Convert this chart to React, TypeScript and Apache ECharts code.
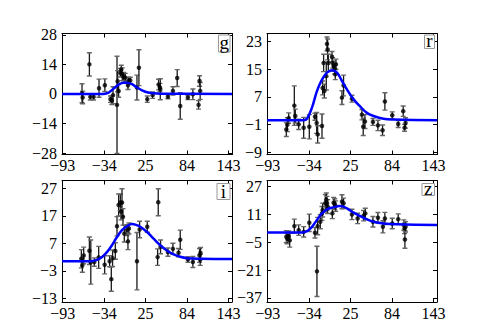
import React, { useEffect, useRef } from "react";
import * as echarts from "echarts";

const BANDS = ["g", "r", "i", "z"];
const X_TICKS = [-93, -34, 25, 84, 143];
const X_RANGE = [-94, 148];
const Y_TICKS = {
  g: [-28, -14, 0, 14, 28],
  r: [-9, -1, 7, 15, 23],
  i: [-13, -3, 7, 17, 27],
  z: [-37, -21, -5, 11, 27],
};
const Y_RANGE = {
  g: [-28.7, 28.6],
  r: [-9.6, 25.3],
  i: [-14.3, 29.8],
  z: [-39.3, 30.5],
};

// [time, flux, error]
const G_POINTS = [
  [-65.5, 0.3, 4.5], [-64.6, -1.7, 3], [-55, 14, 5.5], [-53.7, -1.4, 1.5], [-49, -1.4, 1.5],
  [-41.3, 2.7, 4.3], [-33, 4.1, 3], [-25, -2.5, 1.5], [-23, -3, 2], [-21.4, -0.6, 4],
  [-15.7, -5.2, 23], [-14.8, 6, 5], [-13.4, 1.4, 3], [-11, 10, 2], [-9.6, 11.6, 2],
  [-8.2, 9.3, 3], [-6.3, 8.2, 2], [-4, 7.7, 2], [-0.1, 4.1, 2], [0.8, 6.4, 1.5],
  [3.2, 6.4, 1.5], [12.7, 3, 5.9], [15.5, 12.4, 8.5], [27.4, -2.5, 1.5], [35, -0.6, 1.5],
  [43.5, 4.4, 2.5], [45.4, 3, 2], [45.9, 2.2, 5], [56.8, -1.3, 1], [63.9, 1.4, 2],
  [70, 7.5, 4], [74.3, -5.7, 6.3], [85.2, -1.7, 1], [92.3, -0.2, 2.5], [100.4, -5.2, 2],
  [101.8, 6.1, 2.5], [102.7, 1.4, 4],
];
const R_POINTS = [
  [-66.5, -2.4, 2], [-65, -1, 2], [-63.1, 0.9, 1.5], [-55.1, 4.5, 5.7], [-53.7, 1.5, 2],
  [-48.9, -0.9, 1.5], [-41.8, -1.9, 3], [-33.8, -1.6, 3.5], [-25.7, 1.3, 1], [-23.3, -0.5, 3],
  [-21.9, -3.8, 2.5], [-15.7, -1.4, 3.5], [-14.8, 9.6, 2], [-12.4, 8.7, 2], [-13.4, 16.8, 2.5],
  [-9.6, 13, 4], [-8.6, 22.3, 2], [-7.7, 20.7, 3], [-6.7, 16.8, 2.5], [-1.5, 18.6, 1.5],
  [-0.6, 16.8, 1.5], [0.8, 15.9, 1.5], [2.3, 15.1, 1.5], [3.2, 13.5, 1.5], [4.2, 16.4, 1.5],
  [12.7, 6.8, 2], [15, 10.3, 3], [26.9, 6.5, 1], [41.1, 1.9, 1.5], [43, -1.6, 2.5],
  [45.4, -0.1, 2], [56.8, -0.2, 1], [63.9, -1.2, 1.5], [70.5, -2.6, 1.5], [73.8, 5.7, 2.5],
  [84.3, 1.7, 1], [92.8, -0.8, 1], [99.9, 2.9, 1.5], [101.8, -1.9, 1], [103.2, -0.5, 1.5],
];
const I_POINTS = [
  [-66.5, 1.4, 3.3], [-65, -1, 2.5], [-63.1, 2.6, 3], [-55, 4.3, 5], [-53, 0.2, 8],
  [-48, 0.2, 1.5], [-41.8, 1.9, 4], [-33.3, -0.8, 3.3], [-26.2, 0.5, 2], [-23.8, -6, 4.4],
  [-22, 1.6, 3], [-18.1, 4.2, 3], [-15.7, 13.2, 3.5], [-13.4, 20.9, 4], [-11, 21.8, 3],
  [-10.1, 18.5, 3], [-8.6, 21.8, 5], [-7.2, 16.6, 3], [-5.3, 10.5, 3], [-1.5, 11.8, 2],
  [-0.1, 7.7, 3], [1.3, 12.4, 2], [12.7, 0.5, 10.4], [16.5, 12, 3], [27.4, 13, 2],
  [42.1, 2, 3], [43, 21.9, 4.9], [46.3, 5.7, 2.5], [56.8, 3.8, 1.5], [63.9, 5, 2],
  [71.9, 3.6, 1.5], [74.3, 8.3, 3.5], [85.2, 1.1, 1], [92.3, 0.2, 2], [101.8, 2.6, 2.5],
  [102.7, 1, 2], [103.2, 3.5, 2],
];
const Z_POINTS = [
  [-66.5, -1.8, 3.5], [-65, -2.8, 3], [-63.1, -1.5, 3], [-61.7, -3.8, 4], [-55.1, 4.3, 4],
  [-48.9, 2, 3], [-41.8, 1, 3], [-33.8, 6.2, 5], [-25.7, 0.5, 3], [-22.9, -21.7, 14.4],
  [-21.9, 4.3, 5], [-18.1, 6.8, 4], [-15.8, 11.6, 4], [-14.8, 13.5, 4], [-11, 17.4, 5],
  [-9.6, 19.3, 4], [-8.6, 17.4, 4], [-7.7, 15.5, 4], [-1, 11.6, 3], [0.8, 17.8, 3],
  [2.3, 17, 3], [3.7, 15.8, 3], [12.7, 18.3, 4], [15, 17.4, 3], [26.9, 11, 3],
  [35, 8.7, 3], [43.5, 10.3, 3], [45.9, 11.6, 3], [56.8, 6.8, 3], [63.9, 9.1, 3],
  [71, 3.9, 3.5], [73.8, 8.7, 3.5], [84.3, 5.8, 3], [92.8, 8.3, 3], [100.8, 4.9, 3],
  [101.8, 3, 3], [102.3, -3.4, 5], [103.2, 3.9, 3],
];

// model curves: [time, flux]
const G_CURVE = [
  [-94, 0], [-34.7, 0], [-27.6, 0.6], [-20.5, 2.5], [-13.4, 4.4], [-6.3, 5.3], [-1.5, 5.3],
  [5.6, 4.6], [12.7, 3.0], [19.8, 1.7], [26.9, 0.8], [36.4, 0.3], [45.9, 0.1], [148, 0],
];
const R_CURVE = [
  [-94, 0.3], [-41.8, 0.3], [-37.1, 0.7], [-30, 3.9], [-22.9, 8.7], [-15.7, 12], [-8.6, 14],
  [-1.5, 14.7], [5.6, 14], [12.7, 11.6], [19.8, 9.2], [29.3, 6.3], [38.8, 4.2], [48.2, 2.4],
  [57.7, 1.5], [71.9, 0.7], [86.1, 0.5], [148, 0.3],
];
const I_CURVE = [
  [-94, 0.5], [-53.7, 0.5], [-44.2, 1.0], [-37, 2.0], [-30, 3.8], [-22.9, 6.3], [-15.7, 9.3],
  [-8.6, 11.8], [-1.5, 13.2], [5.6, 14.0], [10.3, 13.8], [17.4, 13.0], [27, 11.1],
  [36.4, 8.7], [45.9, 6.3], [55.3, 4.4], [64.8, 3.0], [74.3, 2.1], [83.8, 1.6], [102.7, 1.4],
  [148, 1.3],
];
const Z_CURVE = [
  [-94, 0.65], [-44.2, 0.65], [-37, 1.4], [-30, 3.9], [-22.9, 7.8], [-15.8, 11.6], [-8.6, 13.9],
  [-1.5, 14.9], [10.3, 15.8], [15, 15.5], [22.2, 13.9], [29.3, 12], [38.8, 10.1], [48.2, 8.2],
  [57.7, 6.8], [71.9, 5.8], [90.9, 5.3], [148, 4.9],
];

const POINTS = { g: G_POINTS, r: R_POINTS, i: I_POINTS, z: Z_POINTS };
const CURVES = { g: G_CURVE, r: R_CURVE, i: I_CURVE, z: Z_CURVE };

const GRIDS = [
  { left: 62, top: 33.5, width: 170, height: 121 },
  { left: 267, top: 33.5, width: 170, height: 121 },
  { left: 62, top: 180.5, width: 170, height: 121.5 },
  { left: 267, top: 180.5, width: 170, height: 121.5 },
];
const BOXES = [
  { x: 218.5, y: 35, w: 11.5, h: 17, cx: 224.2, cy: 42.5 },
  { x: 424.5, y: 35, w: 10, h: 13.5, cx: 429.5, cy: 40.5 },
  { x: 217, y: 183.5, w: 13, h: 16, cx: 223.5, cy: 191 },
  { x: 422, y: 183.5, w: 12.5, h: 12, cx: 428.2, cy: 188 },
];

const FONT = "'Liberation Serif', 'DejaVu Serif', serif";
const fmt = (v: number) => String(v).replace("-", "\u2212");

export default function App() {
  const ref = useRef<HTMLDivElement>(null);
  useEffect(() => {
    document.body.style.margin = "0";
    const chart = echarts.init(ref.current!, null, { renderer: "svg" });
    const xAxis: any[] = [];
    const yAxis: any[] = [];
    const series: any[] = [];
    const graphic: any[] = [];
    BANDS.forEach((b, gi) => {
      const yt = (Y_TICKS as any)[b];
      const yr = (Y_RANGE as any)[b];
      const common = {
        type: "value",
        gridIndex: gi,
        axisLine: { show: true, onZero: false, lineStyle: { color: "#000", width: 1 } },
        splitLine: { show: false },
      };
      xAxis.push({
        ...common,
        position: "bottom",
        min: X_RANGE[0],
        max: X_RANGE[1],
        axisTick: { show: true, inside: true, length: 4, customValues: X_TICKS, lineStyle: { color: "#000" } },
        axisLabel: { customValues: X_TICKS, formatter: fmt, fontFamily: FONT, fontSize: 16, color: "#000", margin: 3 },
      });
      xAxis.push({
        ...common,
        position: "top",
        min: X_RANGE[0],
        max: X_RANGE[1],
        axisTick: { show: true, inside: true, length: 4, customValues: X_TICKS, lineStyle: { color: "#000" } },
        axisLabel: { show: false },
      });
      yAxis.push({
        ...common,
        position: "left",
        min: yr[0],
        max: yr[1],
        axisTick: { show: true, inside: true, length: 4, customValues: yt, lineStyle: { color: "#000" } },
        axisLabel: { customValues: yt, formatter: fmt, fontFamily: FONT, fontSize: 16, color: "#000", margin: 5 },
      });
      yAxis.push({
        ...common,
        position: "right",
        min: yr[0],
        max: yr[1],
        axisTick: { show: true, inside: true, length: 4, customValues: yt, lineStyle: { color: "#000" } },
        axisLabel: { show: false },
      });
      const xi = gi * 2;
      const yi = gi * 2;
      const pts = (POINTS as any)[b];
      series.push({
        type: "custom",
        xAxisIndex: xi,
        yAxisIndex: yi,
        clip: true,
        data: pts,
        encode: { x: 0, y: 1 },
        z: 2,
        renderItem: (params: any, api: any) => {
          const x = api.value(0);
          const y = api.value(1);
          const e = api.value(2);
          const t = api.coord([x, y + e]);
          const bt = api.coord([x, y - e]);
          const cw = 2.5;
          return {
            type: "group",
            children: [
              { type: "line", shape: { x1: t[0], y1: t[1], x2: bt[0], y2: bt[1] }, style: { stroke: "#1a1a1a", lineWidth: 1.3 } },
              { type: "line", shape: { x1: t[0] - cw, y1: t[1], x2: t[0] + cw, y2: t[1] }, style: { stroke: "#666", lineWidth: 1.4 } },
              { type: "line", shape: { x1: bt[0] - cw, y1: bt[1], x2: bt[0] + cw, y2: bt[1] }, style: { stroke: "#666", lineWidth: 1.4 } },
            ],
          };
        },
      });
      series.push({
        type: "scatter",
        xAxisIndex: xi,
        yAxisIndex: yi,
        data: pts.map((p: number[]) => [p[0], p[1]]),
        symbolSize: 4.5,
        itemStyle: { color: "#000" },
        z: 3,
      });
      series.push({
        type: "line",
        xAxisIndex: xi,
        yAxisIndex: yi,
        data: (CURVES as any)[b],
        smooth: 0.4,
        showSymbol: false,
        lineStyle: { color: "#0000ff", width: 2.5 },
        z: 4,
      });
      const bx = BOXES[gi];
      graphic.push({
        type: "rect",
        shape: { x: bx.x, y: bx.y, width: bx.w, height: bx.h },
        style: { fill: "#fff", stroke: "#999", lineWidth: 1 },
        z: 100,
      });
      graphic.push({
        type: "text",
        x: bx.cx,
        y: bx.cy,
        style: { text: b, font: `19px ${FONT}`, fill: "#000", align: "center", verticalAlign: "middle" },
        z: 101,
      });
    });
    chart.setOption({
      animation: false,
      backgroundColor: "#fff",
      grid: GRIDS,
      xAxis,
      yAxis,
      series,
      graphic,
    });
    return () => chart.dispose();
  }, []);
  return <div ref={ref} style={{ width: 485, height: 336 }} />;
}
